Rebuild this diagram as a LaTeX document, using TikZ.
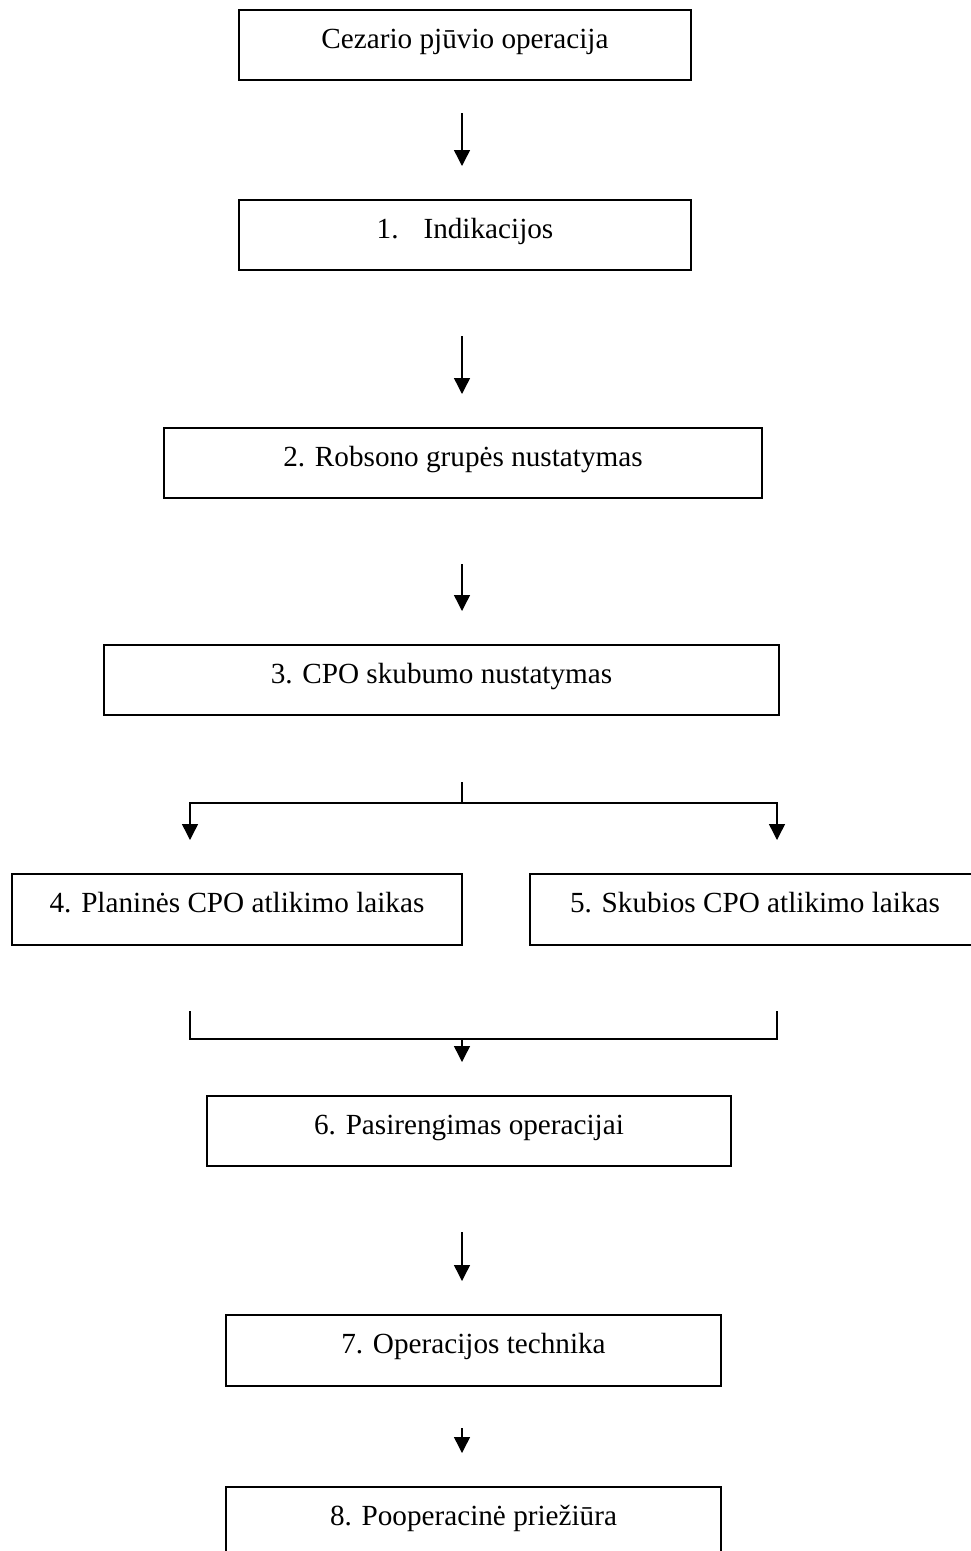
\documentclass[tikz,border=0pt]{standalone}
\usepackage{fontspec}
\setmainfont{Liberation Serif}
\usetikzlibrary{arrows.meta}
\tikzset{
  box/.style={draw, line width=1.7pt, anchor=north west, inner sep=0pt, outer sep=0pt,
    text height=38pt, text depth=32pt, font=\fontsize{29.2}{35}\selectfont},
  conn/.style={line width=1.4pt},
  arr/.style={conn, -{Triangle[length=16pt,width=16pt]}},
}
\begin{document}
\begin{tikzpicture}[x=1pt,y=-1pt]
\useasboundingbox (0,0) rectangle (971,1551);
\clip (0,0) rectangle (971,1551);
\coordinate (col) at (462,0);
\coordinate (sl) at (190,0);
\coordinate (sr) at (777,0);
\coordinate (sj) at (462,803);
\coordinate (mj) at (462,1039);

\node[box, minimum width=452pt] (b0) at (239,10) {Cezario pjūvio operacija};
\node[box, minimum width=452pt] (b1) at (239,200) {1.\hspace{25pt}Indikacijos\hspace{37pt}};
\node[box, minimum width=598pt] (b2) at (164,428) {2. Robsono grupės nustatymas};
\node[box, minimum width=675pt] (b3) at (104,645) {3. CPO skubumo nustatymas};
\node[box, minimum width=450pt, text depth=33pt] (b4) at (12,874) {4. Planinės CPO atlikimo laikas};
\node[box, minimum width=450pt, text depth=33pt] (b5) at (530,874) {5. Skubios CPO atlikimo laikas};
\node[box, minimum width=524pt] (b6) at (207,1096) {6. Pasirengimas operacijai};
\node[box, minimum width=495pt, text depth=33pt] (b7) at (226,1315) {7. Operacijos technika};
\node[box, minimum width=495pt] (b8) at (226,1487) {8. Pooperacinė priežiūra};

\draw[arr, shorten <=33pt, shorten >=34pt] (b0.south -| col) -- (b1.north -| col);
\draw[arr, shorten <=66pt, shorten >=34pt] (b1.south -| col) -- (b2.north -| col);
\draw[arr, shorten <=66pt, shorten >=34pt] (b2.south -| col) -- (b3.north -| col);

\draw[conn, shorten <=67pt] (b3.south -| col) -- (sj);
\draw[arr, shorten >=34pt] (sj) -| (b4.north -| sl);
\draw[arr, shorten >=34pt] (sj) -| (b5.north -| sr);

\draw[conn, shorten <=66pt, shorten >=66pt] (b4.south -| sl) |- (mj) -| (b5.south -| sr);
\draw[arr, shorten >=34pt] (mj) -- (b6.north -| col);

\draw[arr, shorten <=66pt, shorten >=34pt] (b6.south -| col) -- (b7.north -| col);
\draw[arr, shorten <=42pt, shorten >=34pt] (b7.south -| col) -- (b8.north -| col);
\end{tikzpicture}
\end{document}
